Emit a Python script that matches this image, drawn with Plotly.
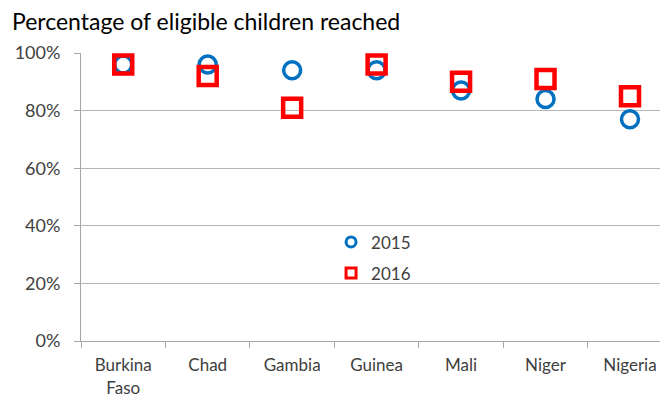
import plotly.graph_objects as go

countries = ["Burkina<br>Faso", "Chad", "Gambia", "Guinea", "Mali", "Niger", "Nigeria"]
reach_2015 = [0.96, 0.96, 0.94, 0.94, 0.87, 0.84, 0.77]
reach_2016 = [0.96, 0.92, 0.81, 0.96, 0.90, 0.91, 0.85]
y_ticks = [0, 0.2, 0.4, 0.6, 0.8, 1.0]

FONT = "Lato"
TXT = "#404040"
BLUE = "#0070C0"
RED = "#FF0000"

fig = go.Figure()
fig.add_trace(go.Scatter(
    x=countries, y=reach_2015, mode="markers", name="2015", showlegend=False,
    marker=dict(symbol="circle-open", size=17, color=BLUE,
                line=dict(width=3.5, color=BLUE)),
    cliponaxis=False,
))
fig.add_trace(go.Scatter(
    x=countries, y=reach_2016, mode="markers", name="2016", showlegend=False,
    marker=dict(symbol="square-open", size=18, color=RED,
                line=dict(width=4.5, color=RED)),
    cliponaxis=False,
))
# legend-only entries with smaller symbols
fig.add_trace(go.Scatter(
    x=[None], y=[None], mode="markers", name="2015", legendgroup="a",
    marker=dict(symbol="circle-open", size=10, color=BLUE,
                line=dict(width=3, color=BLUE)),
))
fig.add_trace(go.Scatter(
    x=[None], y=[None], mode="markers", name="2016", legendgroup="b",
    marker=dict(symbol="square-open", size=10, color=RED,
                line=dict(width=3, color=RED)),
))

fig.update_layout(
    width=660, height=394,
    margin=dict(l=73, r=0, t=45, b=61),
    paper_bgcolor="white", plot_bgcolor="white",
    font=dict(family=FONT, size=16, color=TXT),
    title=dict(text="Percentage of eligible children reached",
               x=0.006, xanchor="left", y=0.965, yanchor="middle",
               font=dict(family=FONT, size=23, color="#000000")),
    showlegend=True,
    legend=dict(x=0.426, y=0.405, xanchor="left", yanchor="top",
                bgcolor="rgba(0,0,0,0)", font=dict(size=17, color=TXT),
                traceorder="grouped", tracegroupgap=6, itemwidth=30),
)
fig.update_xaxes(
    type="category", range=[-0.5, 6.45],
    showline=True, linecolor="#a6a6a6", linewidth=1,
    ticks="outside", tickson="boundaries", ticklen=6, tickcolor="#a6a6a6",
    ticklabelstandoff=9,
    showgrid=False, tickfont=dict(size=17, color=TXT),
)
fig.update_yaxes(
    range=[0, 1.0], tickvals=y_ticks, tickformat=".0%",
    showgrid=True, gridcolor="#b5b5b5", gridwidth=1,
    showline=True, linecolor="#a6a6a6", linewidth=1,
    zeroline=False, ticks="outside", ticklen=6, tickcolor="#a6a6a6",
    ticklabelstandoff=10,
    tickfont=dict(size=18, color=TXT),
)

fig.write_html("out.html")
